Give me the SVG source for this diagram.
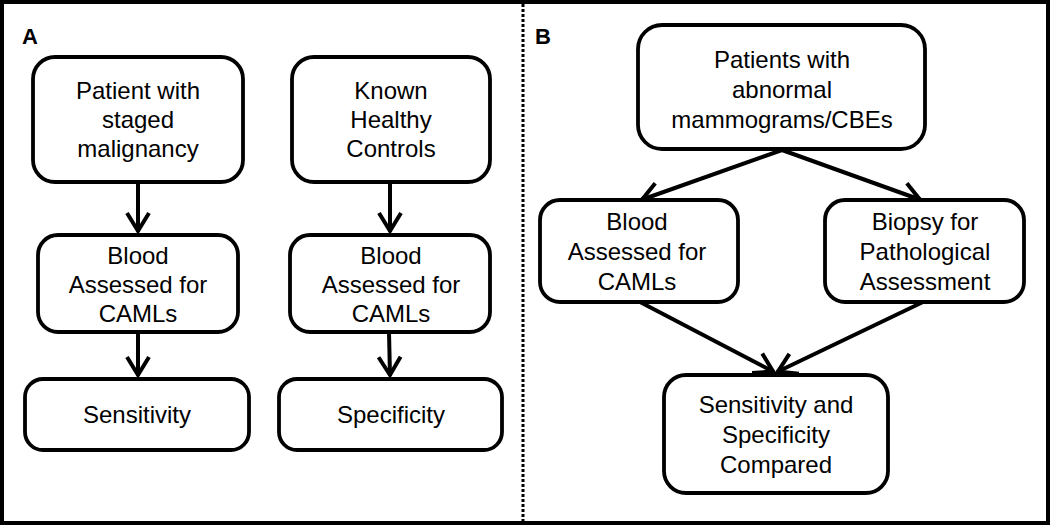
<svg xmlns="http://www.w3.org/2000/svg" width="1050" height="525" viewBox="0 0 1050 525">
<defs>
<style>
.box{fill:#fff;stroke:#000;stroke-width:3.8}
.t{font-family:"Liberation Sans",Arial,sans-serif;font-size:24px;fill:#000;text-anchor:middle}
.lbl{font-family:"Liberation Sans",Arial,sans-serif;font-size:22px;font-weight:bold;fill:#000}
.c{fill:none;stroke:#000;stroke-width:4}
</style>
<marker id="ah" markerUnits="userSpaceOnUse" markerWidth="30" markerHeight="30" viewBox="-24 -14 30 28" refX="0" refY="0" orient="auto">
<path d="M-19,-11 L-1,0 L-19,11" fill="none" stroke="#000" stroke-width="4" stroke-linejoin="miter"/>
</marker>
</defs>
<rect x="0" y="0" width="1050" height="525" fill="#fff"/>
<rect x="2" y="2" width="1046" height="521" fill="none" stroke="#000" stroke-width="4"/>
<line x1="523" y1="4" x2="523" y2="521" stroke="#000" stroke-width="3" stroke-dasharray="3 2"/>
<text class="lbl" x="22" y="44">A</text>
<text class="lbl" x="535" y="44">B</text>
<g id="connectors">
<line class="c" x1="138" y1="182" x2="138" y2="232" marker-end="url(#ah)"/>
<line class="c" x1="390" y1="182" x2="390" y2="232" marker-end="url(#ah)"/>
<line class="c" x1="138" y1="332" x2="138" y2="376" marker-end="url(#ah)"/>
<line class="c" x1="389" y1="332" x2="390" y2="376" marker-end="url(#ah)"/>
<line class="c" x1="782" y1="150" x2="641" y2="200" marker-end="url(#ah)"/>
<line class="c" x1="782" y1="150" x2="921" y2="200" marker-end="url(#ah)"/>
<line class="c" x1="640" y1="302" x2="774" y2="372" marker-end="url(#ah)"/>
<line class="c" x1="923" y1="302" x2="777" y2="372" marker-end="url(#ah)"/>
</g>
<g id="a-patient">
<rect class="box" x="33" y="57" width="210" height="125" rx="22"/>
<text class="t" x="138" y="99">Patient with</text>
<text class="t" x="138" y="128">staged</text>
<text class="t" x="138" y="157">malignancy</text>
</g>
<g id="a-controls">
<rect class="box" x="292" y="57" width="198" height="125" rx="22"/>
<text class="t" x="391" y="99">Known</text>
<text class="t" x="391" y="128">Healthy</text>
<text class="t" x="391" y="157">Controls</text>
</g>
<g id="a-blood1">
<rect class="box" x="38" y="235" width="200" height="97" rx="20"/>
<text class="t" x="138" y="264">Blood</text>
<text class="t" x="138" y="293">Assessed for</text>
<text class="t" x="138" y="322">CAMLs</text>
</g>
<g id="a-blood2">
<rect class="box" x="290" y="235" width="200" height="97" rx="20"/>
<text class="t" x="391" y="264">Blood</text>
<text class="t" x="391" y="293">Assessed for</text>
<text class="t" x="391" y="322">CAMLs</text>
</g>
<g id="a-sensitivity">
<rect class="box" x="25" y="379" width="224" height="71" rx="18"/>
<text class="t" x="137" y="423">Sensitivity</text>
</g>
<g id="a-specificity">
<rect class="box" x="279" y="379" width="223" height="71" rx="18"/>
<text class="t" x="391" y="423">Specificity</text>
</g>
<g id="b-patients">
<rect class="box" x="638" y="25" width="287" height="124" rx="24"/>
<text class="t" x="782" y="68">Patients with</text>
<text class="t" x="782" y="98">abnormal</text>
<text class="t" x="782" y="128">mammograms/CBEs</text>
</g>
<g id="b-blood">
<rect class="box" x="540" y="200" width="198" height="102" rx="20"/>
<text class="t" x="637" y="230">Blood</text>
<text class="t" x="637" y="260">Assessed for</text>
<text class="t" x="637" y="290">CAMLs</text>
</g>
<g id="b-biopsy">
<rect class="box" x="825" y="200" width="199" height="102" rx="20"/>
<text class="t" x="925" y="230">Biopsy for</text>
<text class="t" x="925" y="260">Pathological</text>
<text class="t" x="925" y="290">Assessment</text>
</g>
<g id="b-compared">
<rect class="box" x="664" y="375" width="224" height="118" rx="22"/>
<text class="t" x="776" y="413">Sensitivity and</text>
<text class="t" x="776" y="443">Specificity</text>
<text class="t" x="776" y="473">Compared</text>
</g>
</svg>
